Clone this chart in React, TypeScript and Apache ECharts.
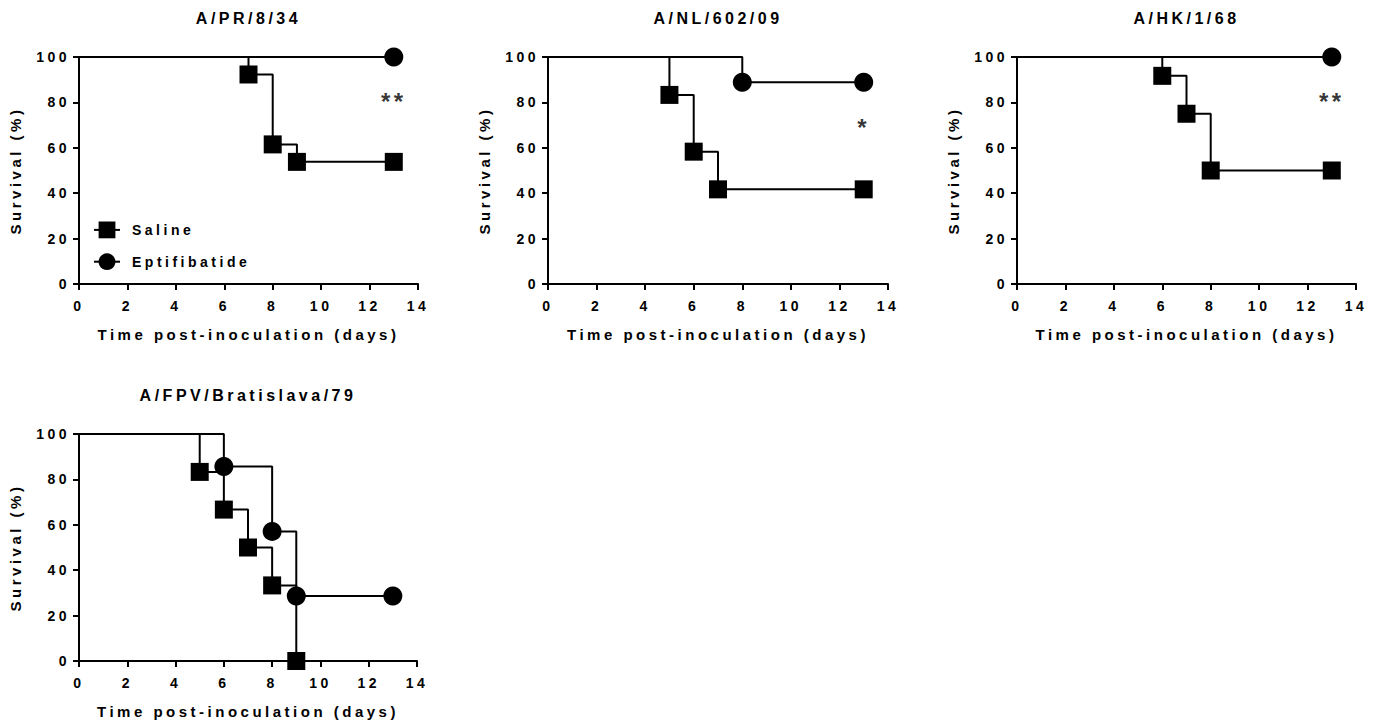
import React, { useEffect, useRef } from "react";
import * as echarts from "echarts";

// ---- data ----
const panelTitles = ["A/PR/8/34", "A/NL/602/09", "A/HK/1/68", "A/FPV/Bratislava/79"];
const seriesNames = ["Saline", "Eptifibatide"];
const xTicks = [0, 2, 4, 6, 8, 10, 12, 14];
const yTicks = [0, 20, 40, 60, 80, 100];

const salinePR8 = [[0, 100], [7, 92.3], [8, 61.5], [9, 53.8], [13, 53.8]];
const eptiPR8 = [[0, 100], [13, 100]];
const salineNL = [[0, 100], [5, 83.3], [6, 58.3], [7, 41.7], [13, 41.7]];
const eptiNL = [[0, 100], [8, 88.9], [13, 88.9]];
const salineHK = [[0, 100], [6, 91.7], [7, 75], [8, 50], [13, 50]];
const eptiHK = [[0, 100], [13, 100]];
const salineFPV = [[0, 100], [5, 83.3], [6, 66.7], [7, 50], [8, 33.3], [9, 0]];
const eptiFPV = [[0, 100], [6, 85.7], [8, 57.1], [9, 28.6], [13, 28.6]];

const salineAll = [salinePR8, salineNL, salineHK, salineFPV];
const eptiAll = [eptiPR8, eptiNL, eptiHK, eptiFPV];
const sigLabels = ["**", "*", "**", ""];
const sigX = [13, 13, 13, 13];
const sigY = [80.5, 69, 80.5, 0];

const FONT = "'Liberation Sans', Arial, Helvetica, sans-serif";

const grids = [
  { left: 79, top: 57, width: 339, height: 227 },
  { left: 548, top: 57, width: 340, height: 227 },
  { left: 1017, top: 57, width: 339, height: 227 },
  { left: 79, top: 434, width: 338, height: 227 },
];

export default function App() {
  const ref = useRef<HTMLDivElement>(null);
  useEffect(() => {
    if (!ref.current) return;
    const chart = echarts.init(ref.current, null, { renderer: "svg" });

    const xAxis = grids.map((_, i) => ({
      type: "value",
      gridIndex: i,
      min: xTicks[0],
      max: xTicks[xTicks.length - 1],
      interval: xTicks[1] - xTicks[0],
      name: "Time post-inoculation (days)",
      nameLocation: "middle",
      nameGap: 43,
      nameTextStyle: { fontFamily: FONT, fontWeight: "bold", fontSize: 15, color: "#000" },
      axisLine: { onZero: false, lineStyle: { color: "#000", width: 2 } },
      axisTick: { length: 6, lineStyle: { color: "#000", width: 2 } },
      axisLabel: { margin: 15, fontFamily: FONT, fontWeight: "bold", fontSize: 14, color: "#000" },
      splitLine: { show: false },
    }));
    const yAxis = grids.map((_, i) => ({
      type: "value",
      gridIndex: i,
      min: yTicks[0],
      max: yTicks[yTicks.length - 1],
      interval: yTicks[1] - yTicks[0],
      name: "Survival (%)",
      nameLocation: "middle",
      nameGap: 56,
      nameTextStyle: { fontFamily: FONT, fontWeight: "bold", fontSize: 15, color: "#000" },
      axisLine: { show: true, onZero: false, lineStyle: { color: "#000", width: 2 } },
      axisTick: { show: true, length: 6, lineStyle: { color: "#000", width: 2 } },
      axisLabel: { margin: 9, fontFamily: FONT, fontWeight: "bold", fontSize: 14, color: "#000" },
      splitLine: { show: false },
    }));

    const mkData = (arr: number[][]) =>
      arr.map((p, j) => (j === 0 ? { value: p, symbol: "none" } : { value: p }));

    const series: any[] = [];
    grids.forEach((_, i) => {
      series.push({
        type: "line",
        name: seriesNames[0],
        xAxisIndex: i,
        yAxisIndex: i,
        step: "end",
        data: mkData(salineAll[i]),
        symbol: "rect",
        symbolSize: 18,
        lineStyle: { color: "#000", width: 2 },
        itemStyle: { color: "#000" },
        z: 3,
      });
      series.push({
        type: "line",
        name: seriesNames[1],
        xAxisIndex: i,
        yAxisIndex: i,
        step: "end",
        data: mkData(eptiAll[i]),
        symbol: "circle",
        symbolSize: 19,
        lineStyle: { color: "#000", width: 2 },
        itemStyle: { color: "#000" },
        z: 2,
      });
      if (sigLabels[i]) {
        series.push({
          type: "scatter",
          xAxisIndex: i,
          yAxisIndex: i,
          data: [[sigX[i], sigY[i]]],
          symbolSize: 1,
          itemStyle: { color: "transparent" },
          label: {
            show: true,
            position: "inside",
            formatter: sigLabels[i],
            fontFamily: FONT,
            fontWeight: "bold",
            fontSize: 24,
            color: "#000",
          },
          silent: true,
          z: 4,
        });
      }
    });

    const graphic = grids.map((g, i) => ({
      type: "text",
      x: g.left + g.width / 2,
      y: g.top - 39,
      style: {
        text: panelTitles[i],
        fill: "#000",
        font: `bold 16px ${FONT}`,
        textAlign: "center",
        textVerticalAlign: "middle",
      },
    }));

    chart.setOption({
      animation: false,
      backgroundColor: "#fff",
      textStyle: { fontFamily: FONT },
      grid: grids,
      xAxis,
      yAxis,
      series,
      graphic,
      legend: {
        data: seriesNames,
        orient: "vertical",
        left: 93,
        top: 221.5,
        padding: 0,
        itemWidth: 26,
        itemHeight: 21,
        itemGap: 15,
        selectedMode: false,
        textStyle: { fontFamily: FONT, fontWeight: "bold", fontSize: 14, color: "#000", padding: [0, 0, 0, 7] },
      },
    });
    return () => chart.dispose();
  }, []);
  return (
    <div
      ref={ref}
      style={{ position: "absolute", left: 0, top: 0, width: 1383, height: 724, letterSpacing: "3.5px" }}
    />
  );
}
